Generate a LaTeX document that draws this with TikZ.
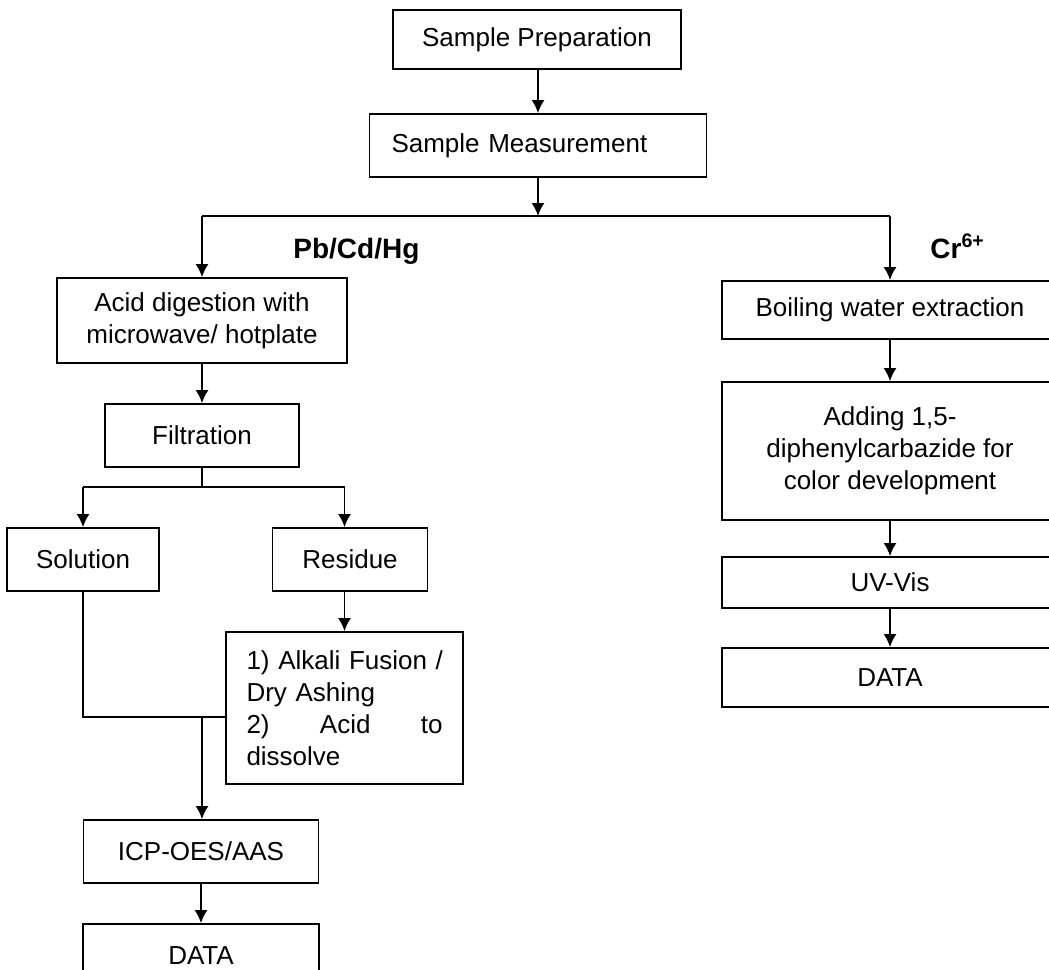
\documentclass[tikz,border=0pt]{standalone}
\usepackage{fontspec}
\setmainfont{Liberation Sans}
\usetikzlibrary{arrows.meta}

\begin{document}
\begin{tikzpicture}[
      x=0.5pt, y=-0.5pt,
      type-box/.style={rectangle, draw, line width=0.9pt, inner sep=0pt, align=center, font=\fontsize{13}{16}\selectfont},
      type-label/.style={inner sep=0pt, anchor=base west, font=\fontsize{14}{16}\selectfont\bfseries},
      type-line/.style={line width=0.9pt},
      type-arrow/.style={line width=0.9pt, -{Latex[length=6.5pt,width=6.5pt]}}
    ]
      \useasboundingbox (0,0) rectangle (1049,969);
      % main trunk
      \node[type-box, minimum width=144pt, minimum height=29.5pt] (prep) at (537,39.5) {Sample Preparation};
      \node[type-box, align=left, text width=146.5pt, inner xsep=11pt, minimum height=31.5pt] (meas) at (538,145.5) {Sample Measurement};
      % Pb/Cd/Hg branch
      \node[type-box, minimum width=145pt, minimum height=42.5pt] (acid) at (202,320.5) {Acid digestion with\\microwave/ hotplate};
      \node[type-box, minimum width=97pt, minimum height=31.5pt] (filt) at (202,435.5) {Filtration};
      \node[type-box, minimum width=76pt, minimum height=31.5pt] (sol) at (83,559.5) {Solution};
      \node[type-box, minimum width=77.5pt, minimum height=31.5pt] (res) at (350,559.5) {Residue};
      \node[type-box, align=left, text width=98pt, inner xsep=10.25pt, minimum height=76pt] (alk) at (344.5,708) {\mbox{1) Alkali Fusion /}\\Dry Ashing\\2)\hfill Acid\hfill to\\dissolve};
      \node[type-box, minimum width=117.5pt, minimum height=31.5pt] (icp) at (201,851.5) {ICP-OES/AAS};
      \node[type-box, minimum width=118pt, minimum height=31.5pt] (data-l) at (201,955.5) {DATA};
      % Cr branch
      \node[type-box, minimum width=168pt, minimum height=29pt] (boil) at (890,310) {Boiling water extraction};
      \node[type-box, minimum width=168pt, minimum height=69pt] (add) at (890,451) {Adding 1,5-\\diphenylcarbazide for\\color development};
      \node[type-box, minimum width=168pt, minimum height=25.5pt] (uv) at (890,582.5) {UV-Vis};
      \node[type-box, minimum width=168pt, minimum height=29.5pt] (data-r) at (890,677.5) {DATA};
      % labels
      \node[type-label] (pb) at (293,258) {Pb/Cd/Hg};
      \node[type-label] (cr) at (930,258) {Cr\textsuperscript{6+}};
      % connectors
      \coordinate (split) at (538,216);
      \coordinate (fork) at (202,487);
      \coordinate (join) at (202,717);
      \draw[type-arrow] (prep.south -| meas) -- (meas);
      \draw[type-arrow] (meas) -- (split);
      \draw[type-line] (acid.north |- split) -- (boil.north |- split);
      \draw[type-arrow] (acid.north |- split) -- (acid);
      \draw[type-arrow] (boil.north |- split) -- (boil);
      \draw[type-arrow] (acid) -- (filt);
      \draw[type-line] (filt) -- (fork);
      \draw[type-line] (sol.north |- fork) -- (alk.north |- fork);
      \draw[type-arrow] (sol.north |- fork) -- (sol);
      \draw[type-arrow] (alk.north |- fork) -- (alk.north |- res.north);
      \draw[type-arrow] (alk.north |- res.south) -- (alk);
      \draw[type-line] (sol) |- (join) -- (join -| alk.west);
      \draw[type-arrow] (join) -- (join |- icp.north);
      \draw[type-arrow] (icp) -- (data-l);
      \draw[type-arrow] (boil) -- (add);
      \draw[type-arrow] (add) -- (uv);
      \draw[type-arrow] (uv) -- (data-r);
    \end{tikzpicture}
\end{document}
